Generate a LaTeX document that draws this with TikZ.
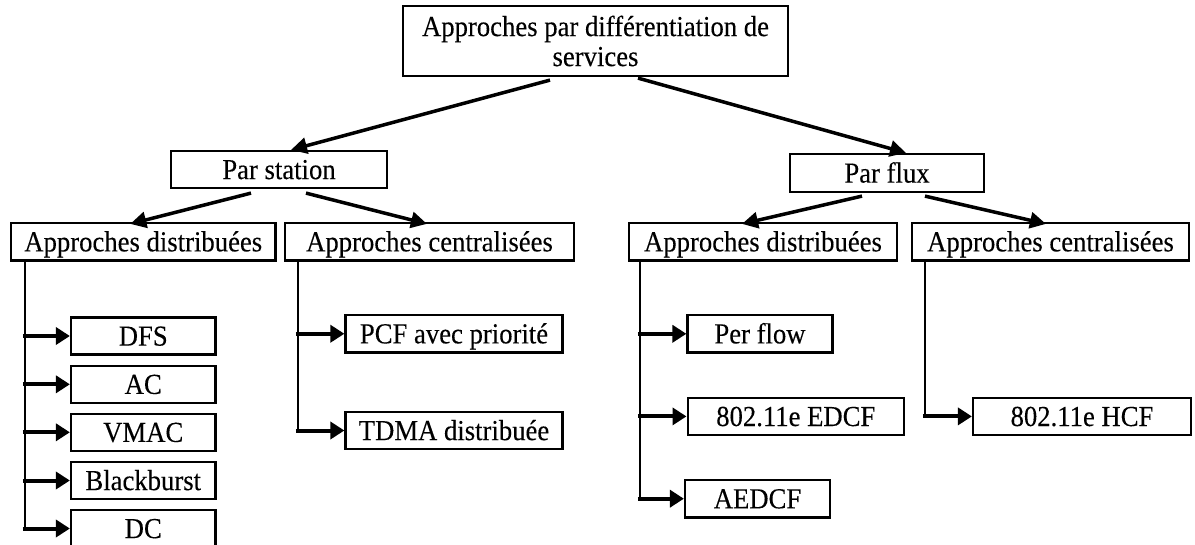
\documentclass[tikz,border=0pt]{standalone}
\usepackage{fontspec}
\setmainfont{Liberation Serif}[FakeStretch=0.92,FakeBold=0.2]
\usetikzlibrary{arrows.meta}
\newcommand{\fsz}{\fontsize{29}{30}\selectfont}
\tikzset{
  box/.style={draw, line width=2.2pt, inner sep=0pt, font=\fsz, minimum height=37.5pt,
    text height=19.2pt, text depth=0pt},
  diag/.style={line width=3.5pt, -{Triangle[length=16pt,width=16pt]}},
  harr/.style={line width=4pt, -{Triangle[length=14pt,width=17pt]}},
  vline/.style={line width=2pt}
}
\begin{document}
\begin{tikzpicture}[x=1pt,y=-1pt]
\useasboundingbox (0,0) rectangle (1195,544);
% level 0
\node[box, minimum width=385pt, minimum height=70pt, align=center, text height=, text depth=] (top) at (595.5,41) {Approches par différentiation de\\services};
% level 1
\node[box, minimum width=216pt, minimum height=37pt] (ps) at (279,169.5) {Par station};
\node[box, minimum width=194pt, minimum height=38pt] (pf) at (887,173) {Par flux};
% level 2
\node[box, minimum width=264.5pt] (adl) at (143.25,241.75) {Approches distribuées};
\node[box, minimum width=289pt] (acl) at (429.5,241.75) {Approches centralisées};
\node[box, minimum width=268pt] (adr) at (763,241.75) {Approches distribuées};
\node[box, minimum width=277pt] (acr) at (1050.5,241.75) {Approches centralisées};
% leaves
\node[box, minimum width=144.5pt, minimum height=37pt] (dfs) at (143.25,336) {DFS};
\node[box, minimum width=144.5pt, minimum height=37pt] (ac) at (143.25,384.3) {AC};
\node[box, minimum width=144.5pt, minimum height=37pt] (vmac) at (143.25,432.3) {VMAC};
\node[box, minimum width=144.5pt, minimum height=37pt] (bb) at (143.25,480.5) {Blackburst};
\node[box, minimum width=144.5pt, minimum height=37pt] (dc) at (143.25,528.5) {DC};
\node[box, minimum width=217pt] (pcf) at (454,333.75) {PCF avec priorité};
\node[box, minimum width=217pt] (tdma) at (454,430.5) {TDMA distribuée};
\node[box, minimum width=145pt] (pfl) at (760,333.8) {Per flow};
\node[box, minimum width=216.4pt] (edcf) at (795.8,416.4) {802.11e EDCF};
\node[box, minimum width=145pt] (aedcf) at (757.5,498.7) {AEDCF};
\node[box, minimum width=218pt] (hcf) at (1082,416.4) {802.11e HCF};
% diagonal arrows
\draw[diag] ([xshift=-45.5pt,yshift=-3pt]top.south) -- ([xshift=12pt]ps.north);
\draw[diag] ([xshift=42.5pt,yshift=-1pt]top.south) -- ([xshift=19pt]pf.north);
\draw[diag] ([xshift=-28pt,yshift=-4pt]ps.south) -- ([xshift=-13pt,yshift=-2pt]adl.north);
\draw[diag] ([xshift=27pt,yshift=-4pt]ps.south) -- ([xshift=-2.5pt,yshift=-2pt]acl.north);
\draw[diag] ([xshift=-25pt,yshift=-3pt]pf.south) -- ([xshift=-21pt,yshift=-2pt]adr.north);
\draw[diag] ([xshift=38pt,yshift=-3pt]pf.south) -- ([xshift=-4.5pt,yshift=-2pt]acr.north);
% trunks
\coordinate (tl) at ([xshift=15pt]adl.south west);
\coordinate (tc) at ([xshift=14pt]acl.south west);
\coordinate (tr) at ([xshift=12pt]adr.south west);
\coordinate (tq) at ([xshift=14pt]acr.south west);
\draw[vline] (tl) -- (tl |- dc.west);
\draw[vline] (tc) -- (tc |- tdma.west);
\draw[vline] (tr) -- (tr |- aedcf.west);
\draw[vline] (tq) -- (tq |- hcf.west);
\foreach \n in {dfs,ac,vmac,bb,dc} \draw[harr] ([xshift=-2pt]tl |- \n.west) -- (\n.west);
\foreach \n in {pcf,tdma} \draw[harr] ([xshift=-2pt]tc |- \n.west) -- (\n.west);
\foreach \n in {pfl,edcf,aedcf} \draw[harr] ([xshift=-2pt]tr |- \n.west) -- (\n.west);
\draw[harr] ([xshift=-2pt]tq |- hcf.west) -- (hcf.west);
\end{tikzpicture}
\end{document}
